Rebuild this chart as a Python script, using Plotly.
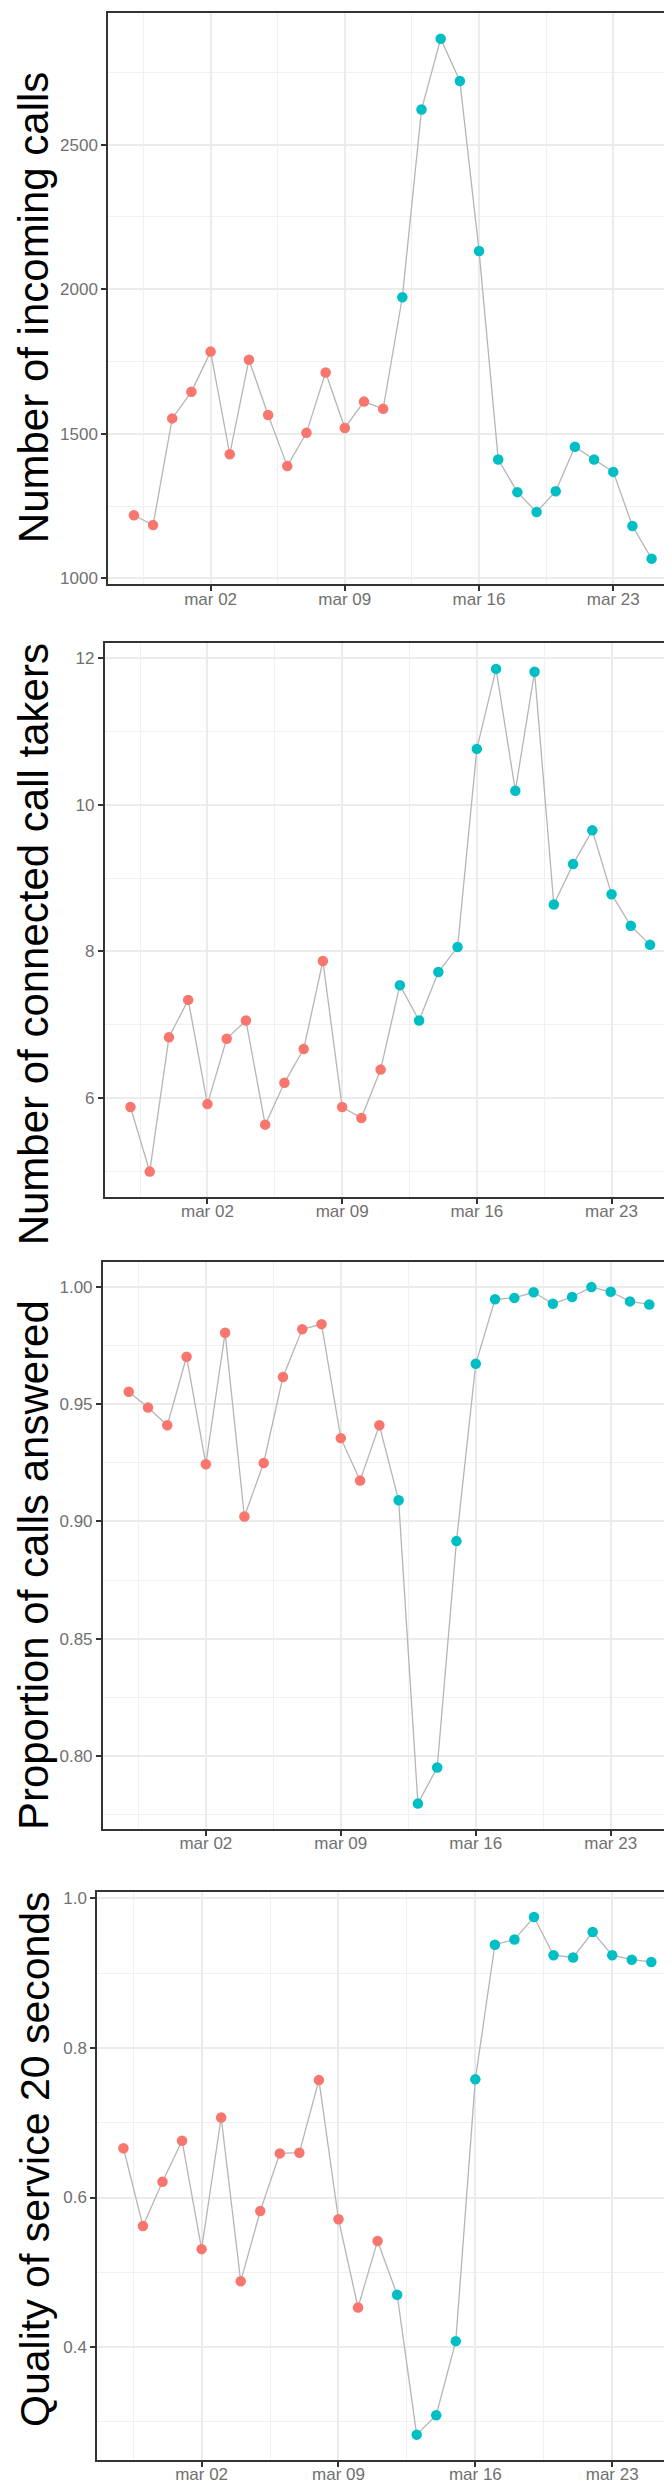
import plotly.graph_objects as go

# ---------------- data ----------------
dates = ["2020-02-27", "2020-02-28", "2020-02-29", "2020-03-01", "2020-03-02",
         "2020-03-03", "2020-03-04", "2020-03-05", "2020-03-06", "2020-03-07",
         "2020-03-08", "2020-03-09", "2020-03-10", "2020-03-11", "2020-03-12",
         "2020-03-13", "2020-03-14", "2020-03-15", "2020-03-16", "2020-03-17",
         "2020-03-18", "2020-03-19", "2020-03-20", "2020-03-21", "2020-03-22",
         "2020-03-23", "2020-03-24", "2020-03-25"]

period = ["before", "before", "before", "before", "before", "before", "before",
          "before", "before", "before", "before", "before", "before", "before",
          "after", "after", "after", "after", "after", "after", "after",
          "after", "after", "after", "after", "after", "after", "after"]

incoming_calls = [1218, 1184, 1553, 1645, 1784, 1429, 1756, 1565, 1388, 1503,
                  1712, 1520, 1611, 1586, 1972, 2621, 2866, 2720, 2132, 1411,
                  1298, 1229, 1301, 1455, 1411, 1368, 1181, 1068]

call_takers = [5.88, 5.00, 6.83, 7.34, 5.92, 6.81, 7.06, 5.64, 6.21, 6.67,
               7.87, 5.88, 5.73, 6.39, 7.54, 7.06, 7.72, 8.06, 10.76, 11.85,
               10.19, 11.81, 8.64, 9.19, 9.65, 8.78, 8.35, 8.09]

prop_answered = [0.9553, 0.9486, 0.9410, 0.9702, 0.9244, 0.9804, 0.9021, 0.9249,
                 0.9616, 0.9819, 0.9841, 0.9355, 0.9174, 0.9410, 0.9090, 0.7797,
                 0.7951, 0.8916, 0.9672, 0.9947, 0.9953, 0.9977, 0.9928, 0.9957,
                 0.9999, 0.9979, 0.9938, 0.9925]

qos_20s = [0.666, 0.562, 0.621, 0.676, 0.531, 0.707, 0.488, 0.582, 0.659, 0.660,
           0.757, 0.571, 0.453, 0.542, 0.470, 0.283, 0.309, 0.408, 0.758, 0.938,
           0.945, 0.975, 0.924, 0.921, 0.955, 0.924, 0.918, 0.915]

titles = ["Number of incoming calls", "Number of connected call takers",
          "Proportion of calls answered", "Quality of service 20 seconds"]

x_tick_vals = ["2020-03-02", "2020-03-09", "2020-03-16", "2020-03-23"]
x_tick_text = ["mar 02", "mar 09", "mar 16", "mar 23"]
x_minor_vals = ["2020-02-27 12:00", "2020-03-05 12:00", "2020-03-12 12:00",
                "2020-03-19 12:00"]

y1_ticks = [1000, 1500, 2000, 2500]
y1_text = ["1000", "1500", "2000", "2500"]
y1_minor = [1250, 1750, 2250, 2750]
y2_ticks = [6, 8, 10, 12]
y2_text = ["6", "8", "10", "12"]
y2_minor = [5, 7, 9, 11]
y3_ticks = [0.80, 0.85, 0.90, 0.95, 1.00]
y3_text = ["0.80", "0.85", "0.90", "0.95", "1.00"]
y3_minor = [0.775, 0.825, 0.875, 0.925, 0.975]
y4_ticks = [0.4, 0.6, 0.8, 1.0]
y4_text = ["0.4", "0.6", "0.8", "1.0"]
y4_minor = [0.3, 0.5, 0.7, 0.9]

# ---------------- styling / layout ----------------
W, H = 672, 2481
colors = {"before": "#F8766D", "after": "#00BFC4"}
x_range = ["2020-02-25 15:36", "2020-03-26 08:24"]

# panel boxes in pixels: left, right, top, bottom
boxes = [(100.0, 669.5, 2.0, 575.0),
         (96.5, 668.0, 634.0, 1189.3),
         (94.7, 667.3, 1254.3, 1823.3),
         (89.0, 669.7, 1886.7, 2456.0)]
y_ranges = [[979, 2955], [4.655, 12.2], [0.7688, 1.0107], [0.249, 1.008]]
series = [incoming_calls, call_takers, prop_answered, qos_20s]
yticks = [(y1_ticks, y1_text, y1_minor), (y2_ticks, y2_text, y2_minor),
          (y3_ticks, y3_text, y3_minor), (y4_ticks, y4_text, y4_minor)]
# title placement: (center x px, center y px, font size)
title_pos = [(25.5, 297.5, 42), (25.5, 936.5, 42), (25.5, 1559.0, 42), (27.0, 2154.0, 41)]

fig = go.Figure()
marker_colors = [colors[p] for p in period]

layout = dict(width=W, height=H, margin=dict(l=0, r=0, t=0, b=0),
              paper_bgcolor="white", plot_bgcolor="white", showlegend=False,
              font=dict(family="Liberation Sans, Arial, sans-serif"))

annotations = []
for i in range(4):
    k = "" if i == 0 else str(i + 1)
    xa, ya = "x" + k, "y" + k
    fig.add_trace(go.Scatter(x=dates, y=series[i], mode="lines",
                             line=dict(color="#B5B5B5", width=1.3),
                             xaxis=xa, yaxis=ya, hoverinfo="skip"))
    fig.add_trace(go.Scatter(x=dates, y=series[i], mode="markers",
                             marker=dict(color=marker_colors, size=10.5, line=dict(width=0)),
                             xaxis=xa, yaxis=ya))
    l, r, t, b = boxes[i]
    common = dict(showline=True, linecolor="#333333", linewidth=1.5, mirror=True,
                  ticks="outside", ticklen=5, tickwidth=1.5, tickcolor="#333333",
                  showgrid=True, gridcolor="#EBEBEB", gridwidth=2, zeroline=False,
                  tickfont=dict(size=17, color="#707070"))
    layout["xaxis" + k] = dict(
        common, domain=[l / W, r / W], anchor=ya, type="date", range=x_range,
        tickmode="array", tickvals=x_tick_vals, ticktext=x_tick_text,
        ticklabelstandoff=-7,
        minor=dict(tickmode="array", tickvals=x_minor_vals, showgrid=True,
                   gridcolor="#F0F0F0", gridwidth=1.2, ticks=""))
    tv, tt, mv = yticks[i]
    layout["yaxis" + k] = dict(
        common, domain=[1 - b / H, 1 - t / H], anchor=xa, range=y_ranges[i],
        tickmode="array", tickvals=tv, ticktext=tt,
        minor=dict(tickmode="array", tickvals=mv, showgrid=True,
                   gridcolor="#F0F0F0", gridwidth=1.2, ticks=""))
    cx, cy, fs = title_pos[i]
    annotations.append(dict(text=titles[i], x=cx / W, y=1 - cy / H, xref="paper",
                            yref="paper", xanchor="center", yanchor="middle",
                            textangle=-90, showarrow=False,
                            font=dict(size=fs, color="black")))

layout["annotations"] = annotations
fig.update_layout(**layout)
fig.write_html("out.html")
